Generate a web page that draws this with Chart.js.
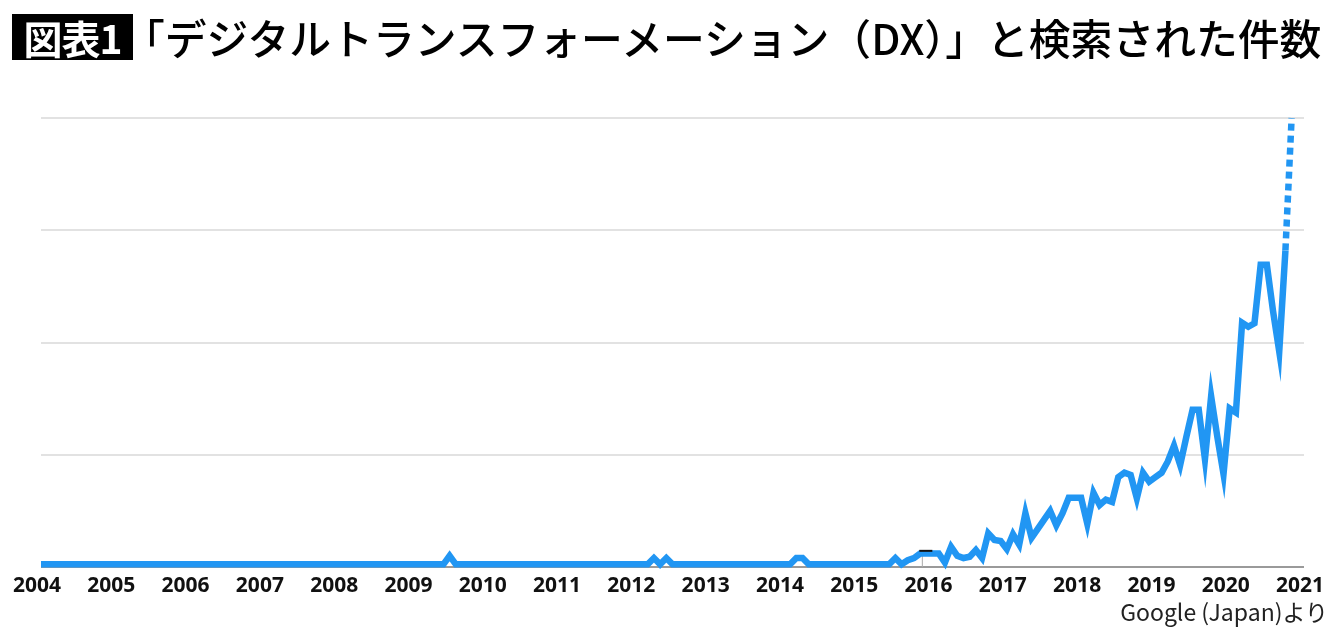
<!DOCTYPE html>
<html lang="ja">
<head>
<meta charset="utf-8">
<script src="https://cdn.jsdelivr.net/npm/chart.js@4.4.1/dist/chart.umd.min.js"></script>
<style>
  html, body { margin: 0; padding: 0; background: #fff; }
  #wrap { position: relative; width: 1340px; height: 632px; overflow: hidden; }
  #chart { position: absolute; left: 0; top: 0; }
  .badge {
    position: absolute; left: 12px; top: 14px; width: 121px; height: 46px;
    background: #000; color: #fff; font: 700 39px "Noto Sans CJK JP";
    line-height: 46px; text-align: center; letter-spacing: -1px;
  }
  .title {
    position: absolute; left: 123px; top: 10px; color: #000;
    font: 500 41.8px "Noto Sans CJK JP"; line-height: 54px; white-space: nowrap;
  }
  .source {
    position: absolute; right: 12px; top: 596px; color: #222;
    font: 400 23px "Noto Sans CJK JP"; line-height: 30px; white-space: nowrap;
  }
</style>
</head>
<body>
<div id="wrap">
  <canvas id="chart" width="1340" height="632"></canvas>
  <div class="badge">図表1</div>
  <div class="title">「デジタルトランスフォーメーション（DX）」と検索された件数</div>
  <div class="source">Google (Japan)より</div>
</div>
<script>
// search interest (Google Trends style, 0-100), vertices of the plotted line
const months = [
  "2004-01", "2009-06", "2009-07", "2009-08",
  "2012-03", "2012-04", "2012-05", "2012-06", "2012-07",
  "2014-02", "2014-03", "2014-04", "2014-05",
  "2015-05", "2015-06", "2015-07", "2015-08", "2015-09", "2015-10", "2015-11", "2015-12",
  "2016-01", "2016-02", "2016-03", "2016-04", "2016-05", "2016-06",
  "2016-07", "2016-08", "2016-09", "2016-10", "2016-11", "2016-12",
  "2017-01", "2017-02", "2017-03", "2017-04", "2017-05", "2017-06",
  "2017-07", "2017-08", "2017-09", "2017-10", "2017-11", "2017-12",
  "2018-01", "2018-02", "2018-03", "2018-04", "2018-05", "2018-06",
  "2018-07", "2018-08", "2018-09", "2018-10", "2018-11", "2018-12",
  "2019-01", "2019-02", "2019-03", "2019-04", "2019-05", "2019-06",
  "2019-07", "2019-08", "2019-09", "2019-10", "2019-11", "2019-12",
  "2020-01", "2020-02", "2020-03", "2020-04", "2020-05", "2020-06",
  "2020-07", "2020-08", "2020-09", "2020-10", "2020-11"
];
const interest = [
  0.6, 0.6, 2.5, 0.6,
  0.6, 2, 0.6, 2, 0.6,
  0.6, 2, 2, 0.6,
  0.6, 0.6, 2, 0.6, 1.5, 2, 3, 3,
  3, 3, 1, 4.5, 2.5, 2,
  2.3, 3.8, 2, 7.5, 6, 5.8,
  4, 7.3, 5, 12, 6.5, 8.5,
  10.5, 12.5, 9.3, 12, 15.4, 15.4,
  15.4, 9.6, 16.5, 13.8, 15, 14.5,
  20, 21, 20.5, 15.3, 21, 19,
  20, 21, 23.5, 27, 22.7, 29,
  35, 35, 24, 38, 29, 20.7,
  35.3, 34.4, 54.4, 53.5, 54.3, 67.3,
  67.3, 57, 48, 70.5, 100
];
// last month is partial data -> dashed
const partialFrom = months.length - 1;
// Google Trends note marker (month, level)
const noteMonth = "2015-12";
const noteLevel = 3.6;

const yearTicks = [2004, 2005, 2006, 2007, 2008, 2009, 2010, 2011, 2012,
  2013, 2014, 2015, 2016, 2017, 2018, 2019, 2020, 2021];
const yGrid = [0, 25, 50, 75, 100];

const toYear = m => {
  const [y, mo] = m.split("-").map(Number);
  return y + (mo - 1) / 12;
};
const points = months.map((m, i) => ({ x: toYear(m), y: interest[i] }));

// small black "note" flag like the one in the Trends screenshot
const noteMarker = {
  id: "noteMarker",
  beforeDatasetsDraw(chart) {
    const { ctx, scales: { x, y } } = chart;
    const px = x.getPixelForValue(toYear(noteMonth));
    ctx.save();
    ctx.strokeStyle = "#aaa";
    ctx.lineWidth = 1;
    ctx.beginPath();
    ctx.moveTo(px - 4, y.getPixelForValue(noteLevel));
    ctx.lineTo(px - 4, y.getPixelForValue(0));
    ctx.stroke();
    ctx.restore();
  },
  afterDatasetsDraw(chart) {
    const { ctx, scales: { x, y } } = chart;
    const px = x.getPixelForValue(toYear(noteMonth));
    const py = y.getPixelForValue(noteLevel);
    ctx.save();
    ctx.strokeStyle = "#111";
    ctx.lineWidth = 2;
    ctx.beginPath();
    ctx.moveTo(px - 7, py);
    ctx.lineTo(px + 6, py);
    ctx.stroke();
    ctx.restore();
  }
};

new Chart(document.getElementById("chart"), {
  type: "line",
  data: {
    datasets: [{
      data: points,
      borderColor: "#2196f3",
      borderWidth: 6.5,
      pointRadius: 0,
      tension: 0,
      clip: false,
      segment: {
        borderDash: ctx => ctx.p1DataIndex >= partialFrom ? [7, 5] : undefined
      }
    }]
  },
  plugins: [noteMarker],
  options: {
    responsive: false,
    animation: false,
    layout: { padding: { left: 41, right: 36, top: 118, bottom: 25 } },
    plugins: { legend: { display: false }, tooltip: { enabled: false } },
    scales: {
      x: {
        type: "linear",
        min: 2004,
        max: 2021,
        afterBuildTicks: s => { s.ticks = yearTicks.map(v => ({ value: v })); },
        afterFit: s => { s.height = 40; },
        grid: { display: false },
        border: { display: false },
        ticks: {
          padding: -2,
          labelOffset: -4,
          color: "#111",
          font: { family: "Noto Sans", size: 21, weight: "bold" },
          callback: v => String(v)
        }
      },
      y: {
        min: 0,
        max: 100,
        afterBuildTicks: s => { s.ticks = yGrid.map(v => ({ value: v })); },
        afterFit: s => { s.width = 0; },
        border: { display: false },
        ticks: { display: false },
        grid: {
          drawTicks: false,
          lineWidth: 2,
          color: c => c.tick && c.tick.value === 0 ? "#9a9a9a" : "#e2e2e2"
        }
      }
    }
  }
});
</script>
</body>
</html>
